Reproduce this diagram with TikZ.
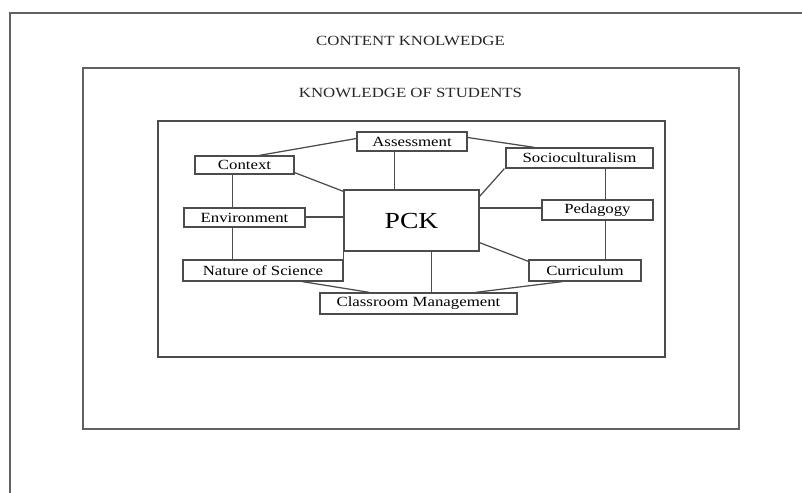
\documentclass[tikz,border=0pt]{standalone}
\usepackage{fontspec}
\setmainfont{Liberation Serif}[FakeStretch=1.2]
\usetikzlibrary{calc}
\begin{document}
\begin{tikzpicture}[x=1pt,y=-1pt,
  ln/.style={draw=black!70, line width=1.25pt},
  frame/.style={draw=black!62, line width=1.5pt},
  box/.style={ln, fill=white, rectangle, inner sep=0pt, font=\fontsize{14}{16}\selectfont},
  title/.style={inner sep=0pt, font=\fontsize{14}{16}\selectfont, text=black!85}]
\useasboundingbox (0,0) rectangle (802,492);
\clip (0,0) rectangle (802,492);
\fill[white] (0,0) rectangle (802,492);
% frames
\draw[frame] (10,510) |- (820,13);
\draw[frame] (83,68) rectangle (739,429);
\draw[ln] (158,121) rectangle (665,357);
\node[title] (ck) at (410.5,41) {CONTENT KNOLWEDGE};
\node[title] (ks) at (410.5,93) {KNOWLEDGE OF STUDENTS};
% nodes
\node[box, minimum width=135pt, minimum height=61pt, font=\fontsize{23}{26}\selectfont] (pck) at (411.5,220.5) {PCK};
\node[box, minimum width=110pt, minimum height=19pt] (ass) at (412,141.5) {Assessment};
\node[box, minimum width=99pt, minimum height=18pt] (ctx) at (244.5,165) {Context};
\node[box, minimum width=121pt, minimum height=19pt] (env) at (244.5,217.5) {Environment};
\node[box, minimum width=147pt, minimum height=20pt] (soc) at (579.5,158) {Socioculturalism};
\node[box, minimum width=111pt, minimum height=20pt] (ped) at (597.5,210) {Pedagogy};
\node[box, minimum width=160pt, minimum height=21pt] (nos) at (263,270.5) {Nature of Science};
\node[box, minimum width=112pt, minimum height=21pt] (cur) at (585,270.5) {Curriculum};
\node[box, minimum width=197pt, minimum height=21pt] (cm) at (418.5,303.5) {Classroom Management};
% connectors
\draw[ln] ($(ctx.north west)+(65,0)$) -- ($(ass.west)+(0,-3)$);
\draw[ln] ($(ass.east)+(0,-4)$) -- ($(soc.north west)+(29,0)$);
\draw[ln] ($(ass.south west)+(38,0)$) coordinate (a1) -- (a1 |- pck.north);
\draw[ln] ($(ctx.south east)+(0,-2)$) -- ($(pck.north west)+(0,2)$);
\draw[ln] ($(ctx.south west)+(38,0)$) coordinate (c1) -- (c1 |- env.north);
\draw[ln] ($(env.east)+(0,-0.5)$) coordinate (e1) -- (e1 -| pck.west);
\draw[ln] (c1 |- env.south) -- (c1 |- nos.north);
\draw[ln] ($(soc.south west)+(-1,0)$) -- ($(pck.north east)+(0,7)$);
\draw[ln] ($(soc.south west)+(100,0)$) coordinate (s1) -- (s1 |- ped.north);
\draw[ln] ($(ped.west)+(0,-2)$) coordinate (p1) -- (p1 -| pck.east);
\draw[ln] (s1 |- ped.south) -- (s1 |- cur.north);
\draw[ln] ($(pck.south east)+(0,-9)$) -- ($(cur.north west)+(0,2)$);
\draw[ln] ($(pck.south west)+(88,0)$) coordinate (k1) -- (k1 |- cm.north);
\draw[ln] ($(nos.south west)+(120,0)$) -- ($(cm.north west)+(50,0)$);
\draw[ln] ($(cur.south west)+(34,0)$) -- ($(cm.north east)+(-42,0)$);
\draw[ln] (pck.south west) -- (pck.south west |- nos.north);
\end{tikzpicture}
\end{document}
